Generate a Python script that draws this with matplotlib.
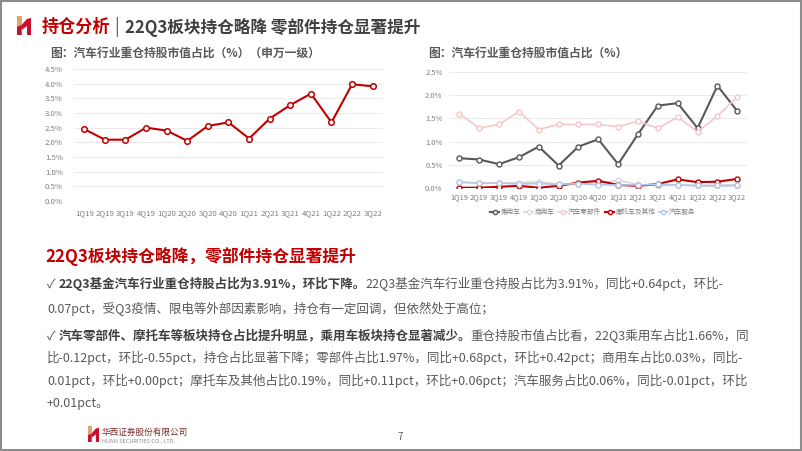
import matplotlib
matplotlib.use("Agg")
import matplotlib.pyplot as plt
from matplotlib.patches import Rectangle, Polygon
import numpy as np

plt.rcParams['font.family'] = ['Noto Sans CJK SC', 'DejaVu Sans']

quarters = ["1Q19", "2Q19", "3Q19", "4Q19", "1Q20", "2Q20", "3Q20", "4Q20",
            "1Q21", "2Q21", "3Q21", "4Q21", "1Q22", "2Q22", "3Q22"]
total_share = [2.45, 2.09, 2.09, 2.50, 2.40, 2.05, 2.56, 2.68, 2.13, 2.81, 3.27, 3.66, 2.68, 3.98, 3.91]

passenger = [0.64, 0.61, 0.51, 0.66, 0.89, 0.48, 0.89, 1.05, 0.51, 1.16, 1.78, 1.83, 1.29, 2.21, 1.66]
commercial = [0.12, 0.10, 0.10, 0.11, 0.13, 0.08, 0.08, 0.10, 0.16, 0.07, 0.04, 0.06, 0.03, 0.03, 0.03]
parts = [1.60, 1.29, 1.37, 1.65, 1.26, 1.37, 1.37, 1.37, 1.32, 1.44, 1.29, 1.53, 1.21, 1.55, 1.97]
moto = [0.00, 0.00, 0.02, 0.04, 0.00, 0.04, 0.11, 0.15, 0.06, 0.04, 0.08, 0.18, 0.12, 0.13, 0.19]
service = [0.12, 0.10, 0.10, 0.08, 0.09, 0.07, 0.09, 0.06, 0.06, 0.06, 0.07, 0.06, 0.05, 0.05, 0.06]

series_names = ["乘用车", "商用车", "汽车零部件", "摩托车及其他", "汽车服务"]
series_vals = [passenger, commercial, parts, moto, service]
series_colors = ["#595959", "#D9D9D9", "#F4C7CB", "#C00000", "#B4C7E7"]

left_ticks = [0.0, 0.5, 1.0, 1.5, 2.0, 2.5, 3.0, 3.5, 4.0, 4.5]
right_ticks = [0.0, 0.5, 1.0, 1.5, 2.0, 2.5]

W, H = 802, 451
fig = plt.figure(figsize=(W / 100, H / 100), dpi=100)

# pixel-coordinate background axes
bg = fig.add_axes([0, 0, 1, 1])
bg.set_xlim(0, W)
bg.set_ylim(H, 0)
bg.axis("off")

RED = "#C00000"
DARK = "#404040"
GRAY = "#595959"

# slide border
bg.add_patch(Rectangle((1, 1), W - 2.5, H - 2.5, fill=False, ec="#8c8c8c", lw=1.5))


def logo(x0, y0, w, h):
    sx = w / 14.0
    sy = h / 19.0
    def P(pts):
        return [(x0 + px * sx, y0 + py * sy) for px, py in pts]
    bg.add_patch(Polygon(P([(0, 0), (4.5, 0), (4.5, 19), (0, 19)]), closed=True, fc="#D9A86C", ec="none"))
    bg.add_patch(Polygon(P([(0, 11), (4.5, 9), (4.5, 19), (0, 19)]), closed=True, fc="#C8102E", ec="none"))
    bg.add_patch(Polygon(P([(4.5, 9), (10, 3), (14, 2), (14, 19), (10, 19), (10, 10), (4.5, 14)]),
                         closed=True, fc="#C8102E", ec="none"))


# header
logo(17, 16, 14, 19)
bg.text(42, 27, "持仓分析", color=RED, fontsize=12.3, fontweight="bold", va="center", ha="left")
bg.text(114, 27, "|", color=GRAY, fontsize=12.3, va="center", ha="left")
bg.text(125, 27, "22Q3板块持仓略降 零部件持仓显著提升", color=DARK, fontsize=12.0,
        fontweight="bold", va="center", ha="left")

# chart titles
bg.text(50, 53, "图：汽车行业重仓持股市值占比（%）（申万一级）", color=GRAY, fontsize=8.5,
        fontweight="bold", va="center", ha="left")
bg.text(428, 53, "图：汽车行业重仓持股市值占比（%）", color=GRAY, fontsize=8.5,
        fontweight="bold", va="center", ha="left")

x = np.arange(len(quarters))
TICKC = "#7f7f7f"

# left chart
axL = fig.add_axes([74 / W, 1 - 201 / H, 309 / W, 132 / H])
axL.set_facecolor("none")
axL.plot(x, total_share, color=RED, lw=1.5, marker="o", ms=4, mfc="white", mec=RED, mew=1.1)
axL.set_xlim(-0.5, len(quarters) - 0.5)
axL.set_ylim(0, 4.5)
axL.set_yticks(left_ticks)
axL.set_yticklabels([f"{v:.1f}%" for v in left_ticks])
axL.set_xticks(x)
axL.set_xticklabels(quarters)
axL.tick_params(axis="both", length=0, labelsize=5.6, labelcolor=TICKC)
axL.tick_params(axis="y", pad=8)
axL.tick_params(axis="x", pad=6)
axL.grid(axis="y", color="#EBEBEB", lw=0.7)
axL.set_axisbelow(True)
for s in axL.spines.values():
    s.set_visible(False)

# right chart
axR = fig.add_axes([449.4 / W, 1 - 187.7 / H, 297.8 / W, 115.4 / H])
axR.set_facecolor("none")
handles = []
for name, vals, col in zip(series_names, series_vals, series_colors):
    lw = 1.5 if name in ("乘用车", "摩托车及其他") else 1.2
    h, = axR.plot(x, vals, color=col, lw=lw, marker="o", ms=3.6, mfc="white", mec=col, mew=1.0, label=name)
    handles.append(h)
axR.set_xlim(-0.5, len(quarters) - 0.5)
axR.set_ylim(0, 2.5)
axR.set_yticks(right_ticks)
axR.set_yticklabels([f"{v:.1f}%" for v in right_ticks])
axR.set_xticks(x)
axR.set_xticklabels(quarters)
axR.tick_params(axis="both", length=0, labelsize=5.4, labelcolor=TICKC)
axR.tick_params(axis="y", pad=5)
axR.tick_params(axis="x", pad=4)
axR.grid(axis="y", color="#EBEBEB", lw=0.7)
axR.set_axisbelow(True)
for s in axR.spines.values():
    s.set_visible(False)

leg = fig.legend(handles=handles, loc="center", bbox_to_anchor=(593 / W, 1 - 212 / H), ncol=5,
                 frameon=False, fontsize=4.8, handlelength=1.3, handletextpad=0.2, columnspacing=0.6,
                 markerscale=0.85, borderpad=0.1)
for t in leg.get_texts():
    t.set_color(TICKC)

# section heading
bg.text(45, 256, "22Q3板块持仓略降，零部件持仓显著提升", color=RED, fontsize=12.1,
        fontweight="bold", va="center", ha="left")

renderer = fig.canvas.get_renderer()
BODY_FS = 9.0
BODYC = "#595959"
BOLDC = "#404040"


def runs(x0, y, parts_):
    cx = x0
    for txt, bold in parts_:
        t = bg.text(cx, y, txt, color=BOLDC if bold else BODYC, fontsize=BODY_FS,
                    fontweight="bold" if bold else "normal", va="center", ha="left")
        bb = t.get_window_extent(renderer)
        cx = bb.x1


LX = 47
runs(LX, 284, [("✓ ", False), ("22Q3基金汽车行业重仓持股占比为3.91%，环比下降。", True),
               ("22Q3基金汽车行业重仓持股占比为3.91%，同比+0.64pct，环比-", False)])
runs(LX, 309, [("0.07pct，受Q3疫情、限电等外部因素影响，持仓有一定回调，但依然处于高位；", False)])
runs(LX, 336, [("✓ ", False), ("汽车零部件、摩托车等板块持仓占比提升明显，乘用车板块持仓显著减少。", True),
               ("重仓持股市值占比看，22Q3乘用车占比1.66%，同", False)])
runs(LX, 358, [("比-0.12pct，环比-0.55pct，持仓占比显著下降；零部件占比1.97%，同比+0.68pct，环比+0.42pct；商用车占比0.03%，同比-", False)])
runs(LX, 381, [("0.01pct，环比+0.00pct；摩托车及其他占比0.19%，同比+0.11pct，环比+0.06pct；汽车服务占比0.06%，同比-0.01pct，环比", False)])
runs(LX, 403, [("+0.01pct。", False)])

# footer
logo(88, 426, 11, 16)
bg.text(102, 432, "华西证券股份有限公司", color="#7a2a2a", fontsize=6.2, va="center", ha="left")
bg.text(102, 441, "HUAXI SECURITIES CO., LTD.", color="#8c8c8c", fontsize=4.0, va="center", ha="left")
bg.text(400, 437, "7", color=GRAY, fontsize=7, va="center", ha="center")

fig.savefig("out.png", dpi=100)
